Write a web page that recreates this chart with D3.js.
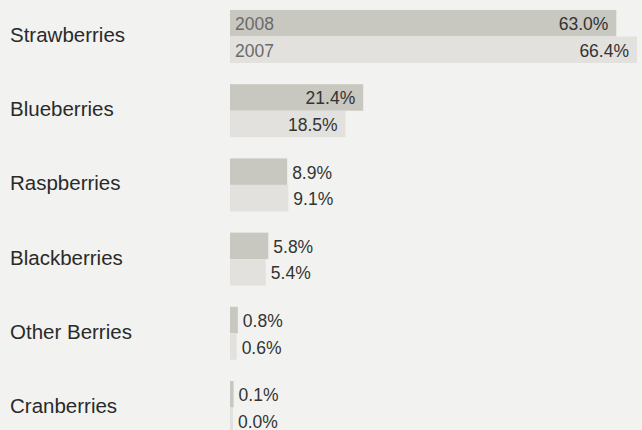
<!DOCTYPE html>
<html>
<head>
<meta charset="utf-8">
<script src="https://cdn.jsdelivr.net/npm/d3@7/dist/d3.min.js"></script>
<style>
  html, body { margin: 0; padding: 0; background: #f2f3f0; }
  svg { display: block; font-family: "Liberation Sans", Arial, Helvetica, sans-serif; }
</style>
</head>
<body>
<svg id="chart" width="642" height="430"></svg>
<script>
// Share of berry sales by category, 2008 vs 2007 (percent)
const categories = ["Strawberries", "Blueberries", "Raspberries", "Blackberries", "Other Berries", "Cranberries"];
const years = ["2008", "2007"];
const values2008 = [63.0, 21.4, 8.9, 5.8, 0.8, 0.1];
const values2007 = [66.4, 18.5, 9.1, 5.4, 0.6, 0.0];

const colors = { "2008": "#c8c8c0", "2007": "#e2e1de" };

const svg = d3.select("#chart");
const barLeft = 230;
const step = 74.2;
const groupHeight = 53;

const rows = categories.map((c, i) => ({
  category: c,
  bars: [
    { year: "2008", value: values2008[i] },
    { year: "2007", value: values2007[i] }
  ]
}));

// One band per berry, split into two year sub-bands
const y = d3.scaleBand()
  .domain(categories)
  .range([10, 10 + step * (categories.length - 1) + groupHeight])
  .paddingInner(1 - groupHeight / step)
  .paddingOuter(0);

const ySub = d3.scaleBand()
  .domain(years)
  .range([0, y.bandwidth()]);

const w = d3.scaleLinear()
  .domain([0, d3.max(values2007.concat(values2008))])
  .range([3, 407]);

const fmt = d3.format(".1f");

// Category labels
svg.append("g")
  .selectAll("text")
  .data(rows)
  .join("text")
  .attr("x", 10)
  .attr("y", d => y(d.category) + y.bandwidth() / 2 + 5.5)
  .attr("font-size", 20.5)
  .attr("fill", "#2a2a2a")
  .text(d => d.category);

const groups = svg.append("g")
  .selectAll("g")
  .data(rows)
  .join("g")
  .attr("transform", d => `translate(${barLeft},${y(d.category)})`);

const bar = groups.selectAll("g")
  .data(d => d.bars.map(b => ({ ...b, category: d.category })))
  .join("g")
  .attr("transform", d => `translate(0,${ySub(d.year)})`);

bar.append("rect")
  .attr("x", 0)
  .attr("y", 0)
  .attr("width", d => w(d.value))
  .attr("height", ySub.bandwidth())
  .attr("fill", d => colors[d.year]);

// Wide bars carry the value inside, right-aligned; narrow bars get it outside
const inside = d => d.value >= 15;

bar.append("text")
  .attr("x", d => inside(d) ? w(d.value) - 8 : w(d.value) + 5)
  .attr("y", ySub.bandwidth() / 2 + 7)
  .attr("text-anchor", d => inside(d) ? "end" : "start")
  .attr("font-size", 17.5)
  .attr("fill", "#333")
  .text(d => fmt(d.value) + "%");

// Year labels on the first (widest) pair of bars
bar.filter(d => d.category === categories[0])
  .append("text")
  .attr("x", 5)
  .attr("y", ySub.bandwidth() / 2 + 7)
  .attr("font-size", 17.5)
  .attr("fill", "#6a6a6a")
  .text(d => d.year);
</script>
</body>
</html>
